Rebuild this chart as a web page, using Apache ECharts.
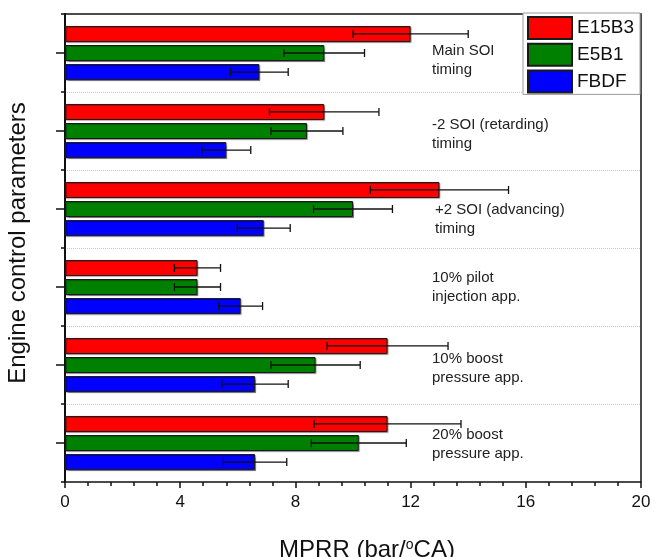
<!DOCTYPE html>
<html>
<head>
<meta charset="utf-8">
<script src="https://cdn.jsdelivr.net/npm/echarts@6/dist/echarts.min.js"></script>
<style>
  html, body { margin: 0; padding: 0; background: #fff; }
  #chart { width: 654px; height: 557px; }
</style>
</head>
<body>
<div id="chart"></div>
<script>
// Engine operating cases, listed top to bottom
const categories = [
  'Main SOI\ntiming',
  '-2 SOI (retarding)\ntiming',
  '+2 SOI (advancing)\ntiming',
  '10% pilot\ninjection app.',
  '10% boost\npressure app.',
  '20% boost\npressure app.'
];

// MPRR values (bar/°CA) per fuel
const e15b3 = [12.0, 9.0, 13.0, 4.6, 11.2, 11.2];
const e5b1  = [9.0, 8.4, 10.0, 4.6, 8.7, 10.2];
const fbdf  = [6.75, 5.6, 6.9, 6.1, 6.6, 6.6];

// Error bar half-widths
const e15b3Err = [2.0, 1.9, 2.4, 0.8, 2.1, 2.55];
const e5b1Err  = [1.4, 1.25, 1.37, 0.8, 1.55, 1.65];
const fbdfErr  = [1.0, 0.85, 0.92, 0.76, 1.15, 1.1];

// X axis ticks
const xMin = 0, xMax = 20, xStep = 4;

const FONT = "'Liberation Sans', Arial, Helvetica, sans-serif";
const BAR_W = 16;
const BAR_GAP = '19%';
const BAR_STEP = BAR_W + BAR_W * 0.19;

// Case labels sit inside the plot, to the right of the bars (pixel nudges per label)
const LABEL_DX = 367;
const labelShiftX = [0, 0, 3, 0, 0, 0];
const labelShiftY = [7, 3, 10, 0, 3, 1];

const fuels = [
  { name: 'E15B3', color: '#ff0000', values: e15b3, errs: e15b3Err },
  { name: 'E5B1',  color: '#008000', values: e5b1,  errs: e5b1Err },
  { name: 'FBDF',  color: '#0000ff', values: fbdf,  errs: fbdfErr }
];

const barSeries = fuels.map(f => ({
  name: f.name,
  type: 'bar',
  barWidth: BAR_W,
  barGap: BAR_GAP,
  data: f.values,
  itemStyle: {
    color: f.color,
    borderColor: '#1a1a1a',
    borderWidth: 1,
    shadowColor: 'rgba(0,0,0,0.35)',
    shadowBlur: 1,
    shadowOffsetX: 1,
    shadowOffsetY: 1
  },
  z: 2
}));

// Horizontal error bars with end caps, aligned with each bar of the group
const errorSeries = fuels.map((f, k) => ({
  name: f.name + ' error',
  type: 'custom',
  z: 5,
  silent: true,
  data: f.values.map((v, i) => [v, f.errs[i], i]),
  renderItem: function (params, api) {
    const v = api.value(0), e = api.value(1), idx = api.value(2);
    const lo = api.coord([v - e, idx]);
    const hi = api.coord([v + e, idx]);
    const y = lo[1] + (k - 1) * BAR_STEP;
    const cap = 4;
    const style = { stroke: '#111', lineWidth: 1.3, fill: null };
    return {
      type: 'group',
      children: [
        { type: 'line', shape: { x1: lo[0], y1: y, x2: hi[0], y2: y }, style },
        { type: 'line', shape: { x1: lo[0], y1: y - cap, x2: lo[0], y2: y + cap }, style },
        { type: 'line', shape: { x1: hi[0], y1: y - cap, x2: hi[0], y2: y + cap }, style }
      ]
    };
  }
}));

// Case names written beside each group
const caseLabelSeries = {
  name: 'case labels',
  type: 'custom',
  z: 4,
  silent: true,
  encode: { x: 0, y: 1 },
  data: categories.map((c, i) => [0, i]),
  renderItem: function (params, api) {
    const idx = api.value(1);
    const p = api.coord([0, idx]);
    return {
      type: 'text',
      x: p[0] + LABEL_DX + labelShiftX[idx],
      y: p[1] + labelShiftY[idx],
      style: {
        text: categories[idx],
        fontFamily: FONT,
        fontSize: 15,
        lineHeight: 19,
        fill: '#222',
        align: 'left',
        verticalAlign: 'middle'
      }
    };
  }
};

const chart = echarts.init(document.getElementById('chart'), null, { renderer: 'canvas' });

chart.setOption({
  animation: false,
  backgroundColor: '#fff',
  textStyle: { fontFamily: FONT },
  grid: {
    left: 65, right: 13, top: 14, bottom: 75,
    containLabel: false,
    outerBoundsMode: 'none',
    show: true, borderColor: '#111', borderWidth: 1.5,
    backgroundColor: 'transparent'
  },
  legend: {
    data: fuels.map(f => f.name),
    orient: 'vertical',
    left: 523, top: 13,
    padding: [3, 6, 1, 4],
    itemWidth: 44, itemHeight: 22, itemGap: 2.7,
    icon: 'rect',
    backgroundColor: '#fff',
    borderColor: '#9a9a9a', borderWidth: 1,
    textStyle: { fontFamily: FONT, fontSize: 19, lineHeight: 22, color: '#111' },
    selectedMode: false,
    z: 10
  },
  xAxis: {
    type: 'value',
    min: xMin, max: xMax, interval: xStep,
    name: '{gap|}MPRR (bar/{sup|o}CA)',
    nameLocation: 'middle',
    nameGap: 56,
    nameTextStyle: {
      fontFamily: FONT, fontSize: 24, color: '#111',
      rich: {
        gap: { width: 28 },
        sup: { fontFamily: FONT, fontSize: 14, color: '#111', verticalAlign: 'top', padding: [0, 0, 11, 0] }
      }
    },
    axisLine: { lineStyle: { color: '#111', width: 2 } },
    axisTick: { show: true, length: 6, lineStyle: { color: '#111', width: 1.5 } },
    minorTick: { show: true, splitNumber: 5, length: 4, lineStyle: { color: '#111', width: 1.5 } },
    splitLine: { show: false },
    axisLabel: { fontFamily: FONT, fontSize: 17, color: '#111', margin: 12 }
  },
  yAxis: [
    {
      type: 'category',
      inverse: true,
      data: categories,
      position: 'left',
      name: 'Engine control parameters',
      nameLocation: 'middle',
      nameGap: 35,
      nameRotate: 90,
      nameTextStyle: { fontFamily: FONT, fontSize: 24, color: '#111', padding: [0, 0, 0, 10] },
      axisLine: { lineStyle: { color: '#111', width: 2 } },
      axisTick: { show: true, alignWithLabel: true, length: 9, lineStyle: { color: '#111', width: 1.5 } },
      splitLine: { show: false },
      axisLabel: { show: false }
    },
    {
      type: 'category',
      inverse: true,
      data: categories,
      position: 'left',
      axisLine: { show: false },
      axisTick: { show: true, length: 4, lineStyle: { color: '#111', width: 1.5 } },
      axisLabel: { show: false },
      splitLine: {
        show: true,
        showMinLine: false,
        showMaxLine: false,
        lineStyle: { color: '#c8c8c8', type: 'dotted', width: 1 }
      }
    }
  ],
  series: barSeries.concat([caseLabelSeries], errorSeries)
});
</script>
</body>
</html>
